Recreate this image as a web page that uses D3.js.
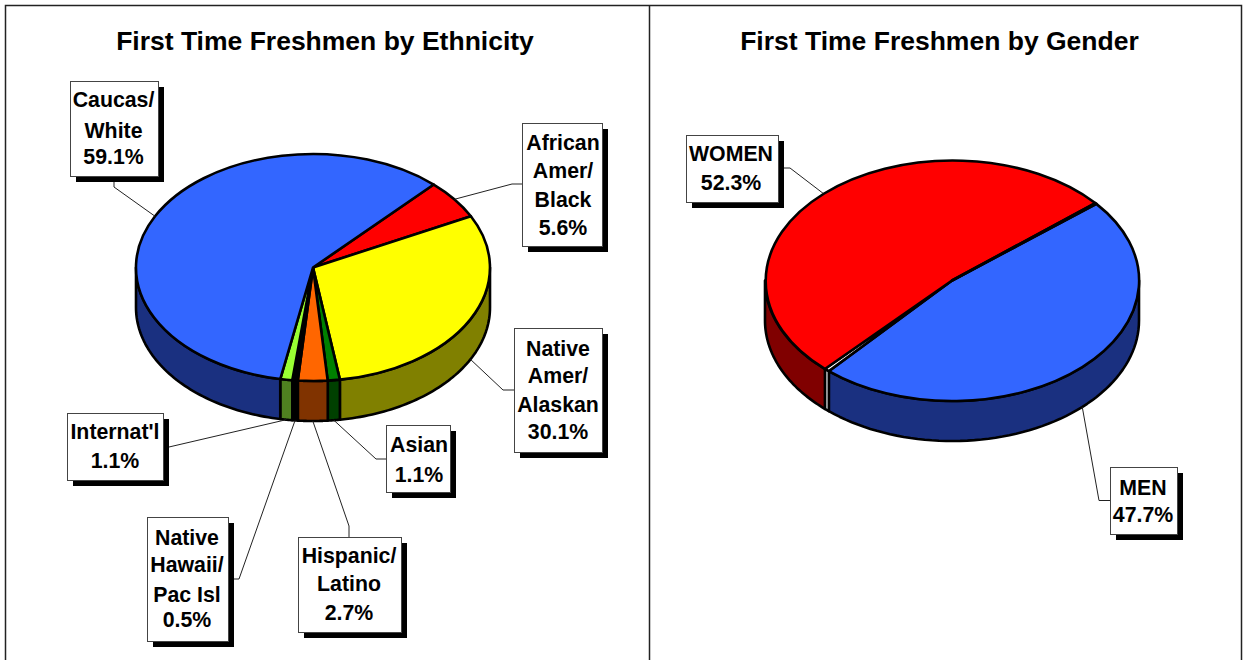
<!DOCTYPE html>
<html>
<head>
<meta charset="utf-8">
<style>
html, body { margin: 0; padding: 0; background: #fff; }
svg { display: block; }
text { font-family: "Liberation Sans", Arial, sans-serif; font-weight: bold; fill: #000; }
</style>
</head>
<body>
<script src="https://d3js.org/d3.v7.min.js"></script>
<script>

// values
let ethnicityNames = ['African Amer/Black', 'Native Amer/Alaskan', 'Asian', 'Hispanic/Latino', 'Native Hawaii/Pac Isl', "Internat'l", 'Caucas/White'];
let ethnicityValues = [5.6, 30.1, 1.1, 2.7, 0.5, 1.1, 59.1];
let genderNames = ['MEN', 'unlabeled', 'WOMEN', 'unlabeled 2'];
let genderValues = [47.7, 0.45, 52.3, 0.15];

let ethnicityTop = ['#ff0000', '#ffff00', '#008000', '#ff6600', '#000000', '#99ff33', '#3366ff'];
let ethnicitySide = ['#800000', '#808000', '#004000', '#803300', '#000000', '#4f8020', '#1a3080'];
let genderTop = ['#3366ff', '#ffffff', '#ff0000', '#333333'];
let genderSide = ['#1a3080', '#ffffff', '#800000', '#222222'];

// label boxes, one per slice: lines of text and where they sit
let ethnicityLabels = [
	{ lines: ['African', 'Amer/', 'Black'], box: [522, 123, 602, 246], cx: 563, ys: [143, 171, 200, 228], elbow: [[512, 184], [522, 184]] },
	{ lines: ['Native', 'Amer/', 'Alaskan'], box: [514, 328, 602, 452], cx: 558, ys: [349, 376, 405, 432], elbow: [[503, 390], [514, 390]] },
	{ lines: ['Asian'], box: [386, 425, 450, 492], cx: 419, ys: [445, 475], elbow: [[376, 459], [386, 459]] },
	{ lines: ['Hispanic/', 'Latino'], box: [298, 537, 401, 632], cx: 349, ys: [556, 584, 613], elbow: [[349, 526], [349, 537]] },
	{ lines: ['Native', 'Hawaii/', 'Pac Isl'], box: [147, 517, 228, 641], cx: 187, ys: [538, 565, 595, 620], elbow: [[239, 579], [234, 579]] },
	{ lines: ["Internat'l"], box: [67, 413, 163, 480], cx: 115, ys: [432, 461], elbow: [[169, 447]] },
	{ lines: ['Caucas/', 'White'], box: [70, 81, 158, 176], cx: 113.5, ys: [100, 131, 157], elbow: [[114, 187], [114, 182]] }
];
let genderLabels = [
	{ lines: ['MEN'], box: [1110, 467, 1177, 534], cx: 1143, ys: [488, 515], elbow: [[1099, 500.5], [1110, 500.5]] },
	null,
	{ lines: ['WOMEN'], box: [686, 135, 778, 202], cx: 731, ys: [154, 183], elbow: [[790, 168], [784, 168]] },
	null
];

let width = 1243;
let height = 660;
let deg = Math.PI / 180;

let svg = d3.select('body').append('svg')
	.attr('width', width)
	.attr('height', height);

// frame of the two panels, open at the bottom
svg.append('path')
	.attr('d', 'M5.5,660V5.5H1241.5V660M649.5,5.5V660')
	.attr('fill', 'none')
	.attr('stroke', '#222')
	.attr('stroke-width', 1.5);

let titles = [
	{ text: 'First Time Freshmen by Ethnicity', x: 325 },
	{ text: 'First Time Freshmen by Gender', x: 939.5 }
];
svg.selectAll('.title').data(titles).enter().append('text')
	.attr('class', 'title')
	.attr('x', d => d.x)
	.attr('y', 50)
	.attr('text-anchor', 'middle')
	.attr('font-size', 26.5)
	.text(d => d.text);

let drawPie = function(o) {
	let pie = d3.pie().sort(null)
		.startAngle(o.start * deg)
		.endAngle((o.start + 360) * deg);
	let slices = pie(o.values);

	// angle is measured clockwise from north, as in d3.arc
	let px = a => o.cx + o.rx * Math.sin(a);
	let py = a => o.cy - o.ry * Math.cos(a);

	let wall = d3.area()
		.x(a => px(a))
		.y0(a => py(a))
		.y1(a => py(a) + o.depth);

	let g = svg.append('g');

	// only the part of a slice facing the viewer has a side wall
	slices.forEach((s, i) => {
		let sides = [[s.startAngle, s.endAngle], [s.startAngle - 2 * Math.PI, s.endAngle - 2 * Math.PI]];
		sides.forEach(r => {
			let from = Math.max(r[0], 90 * deg);
			let to = Math.min(r[1], 270 * deg);
			if (to <= from) return;
			let steps = d3.range(0, 61).map(k => from + (to - from) * k / 60);
			g.append('path')
				.attr('d', wall(steps))
				.attr('fill', o.side[i])
				.attr('stroke', '#000')
				.attr('stroke-width', 2.6)
				.attr('stroke-linejoin', 'round');
		});
	});

	let arc = d3.arc().innerRadius(0).outerRadius(1);
	g.append('g')
		.attr('transform', 'translate(' + o.cx + ',' + o.cy + ') scale(' + o.rx + ',' + o.ry + ')')
		.selectAll('path').data(slices).enter().append('path')
		.attr('d', arc)
		.attr('fill', (d, i) => o.top[i])
		.attr('stroke', '#000')
		.attr('stroke-width', 2.6)
		.attr('stroke-linejoin', 'round')
		.attr('vector-effect', 'non-scaling-stroke');

	// leaders run from the rim at each slice's middle angle
	slices.forEach((s, i) => {
		let l = o.labels[i];
		if (!l) return;
		let mid = (s.startAngle + s.endAngle) / 2;
		let lower = Math.cos(mid) < 0;
		let anchor = [px(mid), py(mid) + (lower ? o.depth : 0)];
		svg.append('path')
			.attr('d', d3.line()([anchor].concat(l.elbow)))
			.attr('fill', 'none')
			.attr('stroke', '#222')
			.attr('stroke-width', 1);
	});

	slices.forEach((s, i) => {
		let l = o.labels[i];
		if (!l) return;
		let b = l.box;
		let lab = svg.append('g');
		lab.append('rect')
			.attr('x', b[0] + 6).attr('y', b[1] + 6)
			.attr('width', b[2] - b[0]).attr('height', b[3] - b[1])
			.attr('fill', '#000');
		lab.append('rect')
			.attr('x', b[0] + 0.5).attr('y', b[1] + 0.5)
			.attr('width', b[2] - b[0]).attr('height', b[3] - b[1])
			.attr('fill', '#fff')
			.attr('stroke', '#444')
			.attr('stroke-width', 1);
		lab.selectAll('text').data(l.lines.concat([s.data.toFixed(1) + '%'])).enter().append('text')
			.attr('x', l.cx)
			.attr('y', (d, k) => l.ys[k] + 7)
			.attr('text-anchor', 'middle')
			.attr('font-size', 21.3)
			.text(d => d);
	});
};

drawPie({
	values: ethnicityValues, top: ethnicityTop, side: ethnicitySide, labels: ethnicityLabels,
	cx: 313, cy: 267.5, rx: 177, ry: 113.5, depth: 40, start: 43
});
drawPie({
	values: genderValues, top: genderTop, side: genderSide, labels: genderLabels,
	cx: 952, cy: 280.5, rx: 187, ry: 120.5, depth: 40, start: 50.5
});

</script>
</body>
</html>
